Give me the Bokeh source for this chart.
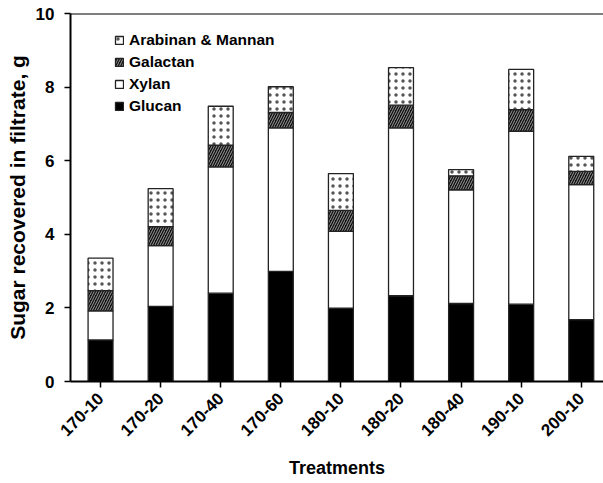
from bokeh.plotting import figure
from bokeh.models import (Range1d, FixedTicker, Legend, LegendItem, ColumnDataSource, Span)
from bokeh.transform import stack
from bokeh.embed import file_html
from bokeh.resources import INLINE
import math

treatments = ["170-10", "170-20", "170-40", "170-60", "180-10", "180-20", "180-40", "190-10", "200-10"]
glucan   = [1.13, 2.04, 2.40, 2.99, 1.99, 2.33, 2.12, 2.10, 1.68]
xylan    = [0.79, 1.65, 3.43, 3.90, 2.09, 4.56, 3.09, 4.70, 3.67]
galactan = [0.55, 0.52, 0.59, 0.42, 0.57, 0.62, 0.38, 0.59, 0.36]
arabinan_mannan = [0.88, 1.03, 1.06, 0.70, 1.00, 1.02, 0.17, 1.09, 0.41]
y_ticks = [0, 2, 4, 6, 8, 10]

FONT = "Liberation Sans"

src = ColumnDataSource(dict(
    x=list(range(len(treatments))),
    glucan=glucan, xylan=xylan, galactan=galactan, ara=arabinan_mannan,
))

p = figure(width=603, height=483, output_backend="svg", toolbar_location=None,
           x_range=Range1d(-0.5, 8.37), y_range=Range1d(0, 10),
           min_border_left=70, min_border_right=0, min_border_top=13, min_border_bottom=102)
p.outline_line_color = None
p.xgrid.grid_line_color = None
p.ygrid.grid_line_color = None
p.background_fill_color = "white"
p.border_fill_color = "white"

W = 0.415
LC = "#222222"
LW = 1.3
r_glu = p.vbar(x="x", bottom=0, top=stack("glucan"), width=W, source=src,
               fill_color="black", line_color=LC, line_width=LW)
r_xyl = p.vbar(x="x", bottom=stack("glucan"), top=stack("glucan", "xylan"), width=W, source=src,
               fill_color="white", line_color=LC, line_width=LW)
r_gal = p.vbar(x="x", bottom=stack("glucan", "xylan"), top=stack("glucan", "xylan", "galactan"),
               width=W, source=src, fill_color="#111111", line_color=LC, line_width=LW,
               hatch_pattern="/", hatch_color="#9a9a9a", hatch_scale=5, hatch_weight=1.0)
r_ara = p.vbar(x="x", bottom=stack("glucan", "xylan", "galactan"),
               top=stack("glucan", "xylan", "galactan", "ara"),
               width=W, source=src, fill_color="white", line_color=LC, line_width=LW,
               hatch_pattern="dot", hatch_color="#555555", hatch_scale=7, hatch_weight=0.7)

# top frame line
p.add_layout(Span(location=10, dimension="width", line_color="black", line_width=2))

# axes
xa = p.xaxis[0]
xa.ticker = FixedTicker(ticks=list(range(len(treatments))))
xa.major_label_overrides = {i: t for i, t in enumerate(treatments)}
xa.major_label_orientation = math.pi / 4
xa.axis_label = "Treatments"
ya = p.yaxis[0]
ya.ticker = FixedTicker(ticks=y_ticks)
ya.axis_label = "Sugar recovered in filtrate, g"

for ax in (xa, ya):
    ax.axis_line_color = "black"
    ax.axis_line_width = 2
    ax.major_tick_line_color = "black"
    ax.major_tick_line_width = 1.5
    ax.major_tick_out = 6
    ax.major_tick_in = 0
    ax.minor_tick_line_color = None
    ax.major_label_text_font = FONT
    ax.major_label_text_font_style = "bold"
    ax.major_label_text_color = "black"
    ax.axis_label_text_font = FONT
    ax.axis_label_text_font_style = "bold"
    ax.axis_label_text_color = "black"

xa.major_label_text_font_size = "17px"
xa.major_label_standoff = 8
xa.axis_label_text_font_size = "18px"
xa.axis_label_standoff = 14
ya.major_label_text_font_size = "17px"
ya.major_label_standoff = 10
ya.axis_label_text_font_size = "21px"
ya.axis_label_standoff = 4

legend = Legend(items=[
    LegendItem(label="Arabinan & Mannan", renderers=[r_ara]),
    LegendItem(label="Galactan", renderers=[r_gal]),
    LegendItem(label="Xylan", renderers=[r_xyl]),
    LegendItem(label="Glucan", renderers=[r_glu]),
], location=(44, 265))
legend.glyph_width = 10
legend.glyph_height = 10
legend.label_height = 20
legend.spacing = 2
legend.padding = 0
legend.margin = 0
legend.label_standoff = 5
legend.border_line_color = None
legend.background_fill_alpha = 0
legend.label_text_font = FONT
legend.label_text_font_style = "bold"
legend.label_text_font_size = "15.5px"
legend.label_text_color = "black"
p.add_layout(legend)

open("out.html", "w").write(file_html(p, INLINE))
